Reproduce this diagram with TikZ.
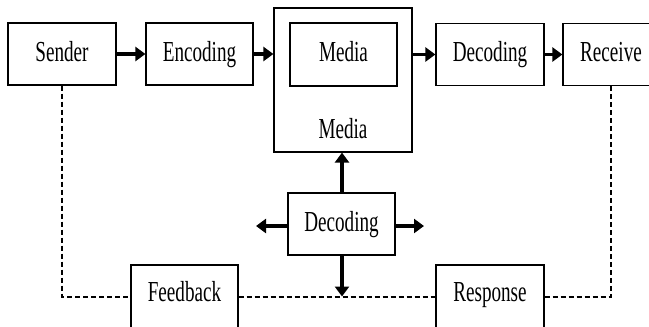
\documentclass[tikz,border=0pt]{standalone}
\usepackage{fontspec}
\setmainfont{Liberation Serif}[FakeStretch=0.66]
\usetikzlibrary{arrows.meta}
\begin{document}
\begin{tikzpicture}[x=1pt,y=-1pt,
  box/.style={draw, line width=1.2pt, minimum width=107pt, minimum height=62pt, inner sep=0pt,
    text height=20pt, text depth=6pt, font=\fontsize{29}{30}\selectfont},
  lbl/.style={inner sep=0pt, text height=20pt, text depth=6pt, font=\fontsize{29}{30}\selectfont},
  flow/.style={line width=3.4pt, -{Triangle[length=10pt,width=14pt]}},
  fb/.style={line width=2pt, dash pattern=on 5pt off 3pt}]
\useasboundingbox (0,0) rectangle (649,327);
\node[box, minimum width=108pt] (sender) at (62,54) {Sender};
\node[box] (encoding) at (199.5,54) {Encoding};
\node[draw, line width=1.2pt, minimum width=138pt, minimum height=144pt, inner sep=0pt] (mediaouter) at (343,80) {};
\node[box, minimum height=63pt] (mediainner) at (343.5,54.5) {Media};
\node[lbl] (medialabel) at (343,131) {Media};
\node[box, minimum width=108pt] (decodingtop) at (490,54.5) {Decoding};
\node[box, minimum width=96pt] (receive) at (611,54.5) {Receive};
\node[box] (decodingmid) at (341.5,224) {Decoding};
\node[box, minimum height=63pt] (feedback) at (184.5,296.5) {};
\node[lbl] (feedbacklabel) at (184.5,294) {Feedback};
\node[box, minimum width=108pt, minimum height=63pt] (response) at (490,296.5) {};
\node[lbl] (responselabel) at (490,294) {Response};
\coordinate (lefttip) at (256,226);
\coordinate (righttip) at (424,226);
\coordinate (downtip) at (342,296.5);
% main flow
\draw[flow] (sender.east) -- (encoding.west);
\draw[flow] (encoding.east) -- (encoding.east -| mediaouter.west);
\draw[flow] (decodingtop.west -| mediaouter.east) -- (decodingtop.west);
\draw[flow] (decodingtop.east) -- (receive.west);
% middle decoding
\draw[flow] (decodingmid.north -| downtip) -- (downtip |- mediaouter.south);
\draw[flow] (decodingmid.west |- lefttip) -- (lefttip);
\draw[flow] (decodingmid.east |- righttip) -- (righttip);
\draw[flow] (decodingmid.south -| downtip) -- (downtip);
% feedback loop
\draw[fb] (sender.south) |- (feedback.west);
\draw[fb] (feedback.east) -- (response.west);
\draw[fb] (response.east) -| (receive.south);
\end{tikzpicture}
\end{document}
